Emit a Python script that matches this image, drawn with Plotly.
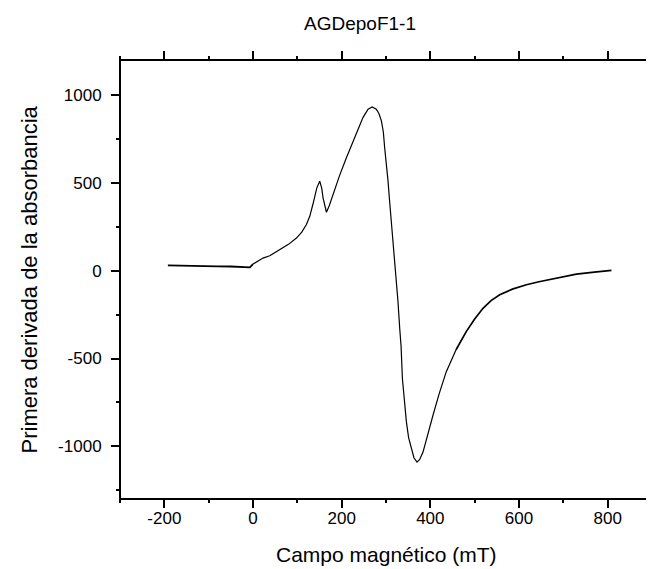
import plotly.graph_objects as go

# Magnetic field (mT) and first derivative of absorbance
campo = [-192, -150, -120, -80, -50, -20, -7, 0, 7.7, 22.6, 37.7, 60, 80, 98, 110, 120.5,
         128, 135, 144, 150.5, 155, 158, 162, 165.6, 172, 180.5, 195, 210.7, 222, 233,
         248, 259.5, 269, 278, 284, 289.6, 294, 297, 301, 304.6, 308, 312, 316, 319.7,
         323.5, 327, 331, 333, 334, 337, 341, 346, 351, 357.3, 363, 370, 376, 383.5,
         393, 406, 420, 436, 458, 481, 500, 518.8, 537, 556.5, 585, 616.7, 645, 670,
         700, 729.5, 770, 808.5]
derivada = [30, 27, 24, 25, 24, 22, 19, 38, 49, 72, 85, 120, 150, 186, 220, 263,
            310, 377, 472, 510, 470, 415, 360, 333, 370, 434, 540, 643, 712, 777,
            872, 920, 933, 920, 895, 853, 790, 700, 610, 510, 400, 282, 170, 53,
            -61, -175, -330, -400, -430, -614, -740, -861, -950, -1014, -1065, -1090, -1075, -1033,
            -940, -823, -700, -575, -450, -347, -275, -214, -170, -137, -105, -80, -63, -51,
            -36, -19, -8, 2]

x_ticks = [-200, 0, 200, 400, 600, 800]
x_labels = ["-200", "0", "200", "400", "600", "800"]
y_ticks = [-1000, -500, 0, 500, 1000]
y_labels = ["-1000", "-500", "0", "500", "1000"]

titulo = "AGDepoF1-1"
titulo_x = "Campo magnético (mT)"
titulo_y = "Primera derivada de la absorbancia"

font_family = "Liberation Sans, Arial, sans-serif"

# noisier (visually heavier) stretches of the recorded trace
i_base = campo.index(0) + 1          # flat baseline before 0 mT
i_tail = campo.index(458)            # slow return towards zero

fig = go.Figure()
fig.add_trace(go.Scatter(x=campo[:i_base], y=derivada[:i_base], mode="lines",
                         line=dict(color="black", width=1.8), showlegend=False))
fig.add_trace(go.Scatter(x=campo[i_base - 1:i_tail + 1], y=derivada[i_base - 1:i_tail + 1],
                         mode="lines", line=dict(color="black", width=1.2), showlegend=False))
fig.add_trace(go.Scatter(x=campo[i_tail:], y=derivada[i_tail:], mode="lines",
                         line=dict(color="black", width=1.7), showlegend=False))
# invisible trace for the top axis
fig.add_trace(go.Scatter(x=[campo[0]], y=[derivada[0]], xaxis="x2", mode="markers",
                         marker=dict(opacity=0), showlegend=False, hoverinfo="skip"))

minor_style = dict(ticklen=3, tickcolor="black", tickwidth=1.5, ticks="outside")
axis_common = dict(showline=False, ticks="outside", automargin=False,
                   tickcolor="black", tickwidth=1.5, ticklen=8, showgrid=False,
                   zeroline=False, tickfont=dict(family=font_family, size=17, color="black"))

fig.update_layout(
    width=654, height=569,
    margin=dict(l=112, r=10, t=52, b=78),
    paper_bgcolor="white", plot_bgcolor="white",
    title=dict(text=titulo, x=352 / 654, xref="container", xanchor="center",
               y=1 - 15 / 569, yref="container", yanchor="middle",
               font=dict(family=font_family, size=19, color="black")),
    xaxis=dict(range=[-300, 900], tickvals=x_ticks, ticktext=x_labels,
               ticklabelstandoff=-4,
               minor=dict(dtick=100, **minor_style), **axis_common),
    xaxis2=dict(range=[-300, 900], overlaying="x", side="top", tickvals=x_ticks,
                showticklabels=False, minor=dict(dtick=100, **minor_style),
                **axis_common),
    yaxis=dict(range=[-1300, 1200], tickvals=y_ticks, ticktext=y_labels,
               ticklabelstandoff=6,
               minor=dict(dtick=250, **minor_style), **axis_common),
    shapes=[dict(type="rect", xref="paper", yref="paper", x0=0, x1=1, y0=0, y1=1,
                 line=dict(color="black", width=2), fillcolor="rgba(0,0,0,0)", layer="above")],
    annotations=[
        dict(text=titulo_x, xref="paper", yref="paper", x=0.5, y=0, xanchor="center",
             yanchor="middle", yshift=-55, showarrow=False,
             font=dict(family=font_family, size=21, color="black")),
        dict(text=titulo_y, xref="paper", yref="paper", x=0, y=0.5, xanchor="center",
             yanchor="middle", xshift=-91, textangle=-90, showarrow=False,
             font=dict(family=font_family, size=22, color="black")),
    ],
)

fig.write_html("out.html")
